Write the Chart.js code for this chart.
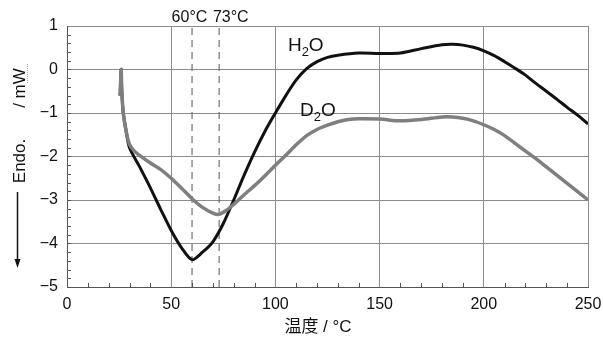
<!DOCTYPE html>
<html lang="ja">
<head>
<meta charset="UTF-8">
<title>DSC H2O / D2O</title>
<script src="https://cdn.jsdelivr.net/npm/chart.js"></script>
<style>
  body { margin: 0; background: #fff; }
  #wrap { width: 603px; height: 338px; }
</style>
</head>
<body>
<div id="wrap"><canvas id="dsc" width="603" height="338"></canvas></div>
<script>
// values (temperature in °C, heat flow in mW)
const h2oTemp = [25.5, 25.8, 26, 26.3, 27, 28.5, 30, 35, 40, 45, 50, 55, 60, 65, 70, 75, 80, 85, 90, 95, 100, 105, 110, 115, 120, 125, 130, 140, 150, 160, 170, 180, 185, 190, 195, 200, 205, 210, 215, 220, 225, 230, 235, 240, 245, 250];
const h2oHeat = [-0.6, -0.2, 0, -0.5, -1.0, -1.45, -1.8, -2.25, -2.72, -3.22, -3.7, -4.1, -4.37, -4.2, -3.96, -3.54, -3.0, -2.43, -1.9, -1.42, -1.0, -0.6, -0.24, 0.02, 0.18, 0.28, 0.33, 0.38, 0.37, 0.38, 0.48, 0.57, 0.58, 0.56, 0.51, 0.43, 0.32, 0.18, 0.03, -0.13, -0.32, -0.5, -0.68, -0.87, -1.05, -1.25];

const d2oTemp = [25.5, 25.8, 26, 26.3, 27, 28.5, 30, 32, 35, 40, 45, 50, 55, 60, 65, 70, 73, 77, 80, 85, 90, 95, 100, 105, 110, 115, 120, 125, 130, 135, 140, 150, 160, 170, 180, 185, 190, 195, 200, 205, 210, 217, 225, 230, 240, 250];
const d2oHeat = [-0.6, -0.2, 0, -0.5, -1.0, -1.45, -1.72, -1.86, -1.98, -2.15, -2.3, -2.5, -2.73, -2.97, -3.17, -3.3, -3.33, -3.22, -3.1, -2.88, -2.67, -2.44, -2.2, -1.97, -1.73, -1.52, -1.38, -1.28, -1.2, -1.15, -1.13, -1.14, -1.18, -1.15, -1.09, -1.09, -1.12, -1.18, -1.27, -1.38, -1.52, -1.77, -2.05, -2.24, -2.62, -3.0];

const peakTemps = [60, 73];
const peakLabels = ['60°C', '73°C'];
const xTicks = [0, 50, 100, 150, 200, 250];
const yTicks = [1, 0, -1, -2, -3, -4, -5];

const toPoints = (xs, ys) => xs.map((x, i) => ({ x: x, y: ys[i] }));
const FONT = "'Liberation Sans', Arial, 'Noto Sans CJK JP', sans-serif";

const peakSets = peakTemps.map(t => ({
    data: [{ x: t, y: -5 }, { x: t, y: 1 }],
    borderColor: '#555', borderWidth: 1, borderDash: [7, 5],
    pointRadius: 0, showLine: true, order: 3
}));

// text, minor ticks and axis titles
const decorations = {
    id: 'decorations',
    afterDraw(chart) {
        const { ctx, scales: { x, y }, chartArea: a } = chart;
        ctx.save();
        ctx.fillStyle = '#111';
        ctx.strokeStyle = '#555';
        ctx.lineWidth = 1;

        // minor ticks, drawn inward
        for (let t = 10; t < 250; t += 10) {
            if (t % 50 === 0) continue;
            const px = Math.round(x.getPixelForValue(t)) + 0.5;
            ctx.beginPath(); ctx.moveTo(px, a.bottom); ctx.lineTo(px, a.bottom - 4); ctx.stroke();
        }
        for (let v = -5; v < 1; v += 0.2) {
            const py = Math.round(y.getPixelForValue(v)) + 0.5;
            ctx.beginPath(); ctx.moveTo(a.left, py); ctx.lineTo(a.left + 4, py); ctx.stroke();
        }

        // peak labels above the plot
        ctx.font = '16px ' + FONT;
        ctx.textBaseline = 'alphabetic';
        ctx.textAlign = 'left';
        ctx.fillText(peakLabels[0], x.getPixelForValue(50.2), 22);
        ctx.fillText(peakLabels[1], x.getPixelForValue(70), 22);

        // series labels with subscript
        const chem = (left, base, sym) => {
            let px = left;
            ctx.font = '19px ' + FONT;
            ctx.fillText(sym, px, base); px += ctx.measureText(sym).width;
            ctx.font = '13px ' + FONT;
            ctx.fillText('2', px, base + 5); px += ctx.measureText('2').width;
            ctx.font = '19px ' + FONT;
            ctx.fillText('O', px, base);
        };
        chem(x.getPixelForValue(106), y.getPixelForValue(0.42), 'H');
        chem(x.getPixelForValue(111.8), y.getPixelForValue(-1.07), 'D');

        // x title
        ctx.font = '17px ' + FONT;
        ctx.textAlign = 'center';
        ctx.fillText('温度 / °C', 318, 332);

        // y title, rotated
        ctx.save();
        ctx.translate(25, 0);
        ctx.rotate(-Math.PI / 2);
        ctx.font = '17px ' + FONT;
        ctx.textAlign = 'center';
        ctx.fillText('Endo.', -161, 0);
        ctx.fillText('/ mW', -88, 0);
        ctx.restore();
        ctx.strokeStyle = '#aaa';
        ctx.setLineDash([1, 1]);
        ctx.beginPath(); ctx.moveTo(27.5, 64); ctx.lineTo(27.5, 84); ctx.stroke();
        ctx.setLineDash([]);

        // arrow
        ctx.strokeStyle = '#111';
        ctx.lineWidth = 1.5;
        ctx.beginPath(); ctx.moveTo(17.5, 192); ctx.lineTo(17.5, 262); ctx.stroke();
        ctx.beginPath();
        ctx.moveTo(14.5, 259); ctx.lineTo(20.5, 259); ctx.lineTo(17.5, 268); ctx.closePath();
        ctx.fill();
        ctx.restore();
    }
};

new Chart(document.getElementById('dsc'), {
    type: 'scatter',
    data: {
        datasets: [
            { label: 'D2O', data: toPoints(d2oTemp, d2oHeat), borderColor: '#7f7f7f', borderWidth: 3.5,
              showLine: true, pointRadius: 0, tension: 0.3, order: 1 },
            { label: 'H2O', data: toPoints(h2oTemp, h2oHeat), borderColor: '#111', borderWidth: 3,
              showLine: true, pointRadius: 0, tension: 0.3, order: 2 },
            ...peakSets
        ]
    },
    options: {
        responsive: false,
        animation: false,
        devicePixelRatio: 1,
        layout: { padding: { left: 0, right: 15, top: 26, bottom: 0 } },
        plugins: { legend: { display: false }, tooltip: { enabled: false } },
        scales: {
            x: {
                type: 'linear', min: 0, max: 250,
                afterBuildTicks: s => { s.ticks = xTicks.map(v => ({ value: v })); },
                afterFit: s => { s.height = 51; s.paddingLeft = 0; s.paddingRight = 0; },
                grid: { color: '#8c8c8c', lineWidth: 1, drawTicks: false },
                border: { color: '#555', width: 1 },
                ticks: { padding: 8, color: '#111', font: { family: FONT, size: 16 } }
            },
            y: {
                type: 'linear', min: -5, max: 1,
                afterBuildTicks: s => { s.ticks = yTicks.map(v => ({ value: v })); },
                afterFit: s => { s.width = 67; s.paddingTop = 0; s.paddingBottom = 0; },
                grid: { color: '#8c8c8c', lineWidth: 1, drawTicks: false },
                border: { color: '#555', width: 1 },
                ticks: { padding: 9, color: '#111', font: { family: FONT, size: 16 },
                         callback: v => String(v).replace('-', '\u2212') }
            }
        }
    },
    plugins: [decorations]
});
</script>
</body>
</html>
